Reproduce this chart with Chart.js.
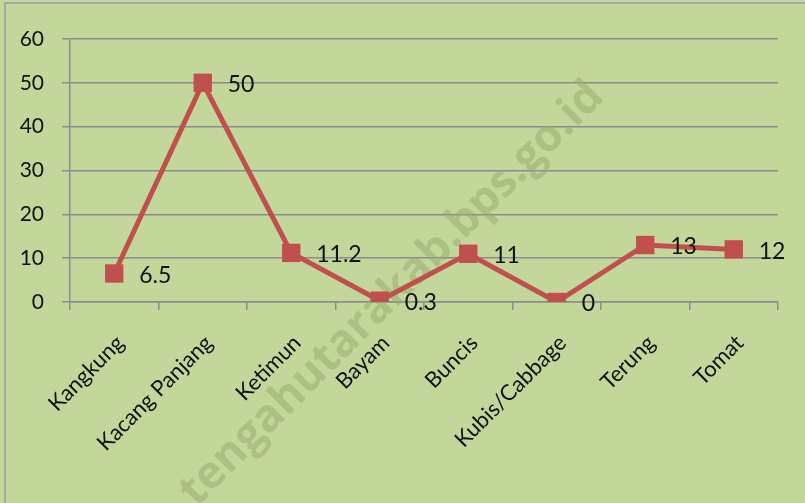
<!DOCTYPE html>
<html>
<head>
<meta charset="utf-8">
<script src="https://cdn.jsdelivr.net/npm/chart.js@4"></script>
<style>
  html, body { margin: 0; padding: 0; background: #c4d79b; }
  #wrap { width: 805px; height: 503px; }
</style>
</head>
<body>
<div id="wrap"><canvas id="line-1" width="805" height="503"></canvas></div>
<script>
/* global Chart */

const categories = ['Kangkung', 'Kacang Panjang', 'Ketimun', 'Bayam', 'Buncis', 'Kubis/Cabbage', 'Terung', 'Tomat']
const values = [6.5, 50, 11.2, 0.3, 11, 0, 13, 12]
const yTicks = [0, 10, 20, 30, 40, 50, 60]
const watermark = 'tengahutarakab.bps.go.id'

const FONT = 'Lato, "Liberation Sans", sans-serif'
const RED = '#c0504d'
const GRID = '#8c8c8c'

const background = {
  id: 'background',
  beforeDraw (chart) {
    const ctx = chart.ctx
    ctx.save()
    ctx.fillStyle = '#c4d79b'
    ctx.fillRect(0, 0, chart.width, chart.height)
    ctx.strokeStyle = '#a6a6a6'
    ctx.lineWidth = 2
    ctx.beginPath()
    ctx.moveTo(5, chart.height)
    ctx.lineTo(5, 3)
    ctx.lineTo(chart.width, 3)
    ctx.stroke()
    ctx.restore()
  },
  beforeDatasetsDraw (chart) {
    // faint diagonal watermark behind the line
    const ctx = chart.ctx
    ctx.save()
    ctx.translate(392, 294)
    ctx.rotate(-Math.PI / 4)
    ctx.font = 'bold 40px "Open Sans", sans-serif'
    const w = ctx.measureText(watermark).width
    const s = 580 / w
    ctx.font = 'bold ' + Math.round(40 * s) + 'px "Open Sans", sans-serif'
    ctx.fillStyle = 'rgba(150, 170, 110, 0.5)'
    ctx.textAlign = 'center'
    ctx.textBaseline = 'middle'
    ctx.fillText(watermark, 0, 0)
    ctx.restore()
  }
}

const valueLabels = {
  id: 'valueLabels',
  afterDatasetsDraw (chart) {
    const ctx = chart.ctx
    const meta = chart.getDatasetMeta(0)
    ctx.save()
    ctx.font = '23px ' + FONT
    ctx.fillStyle = '#111'
    ctx.textAlign = 'left'
    ctx.textBaseline = 'middle'
    meta.data.forEach((pt, i) => {
      ctx.fillText(String(values[i]), pt.x + 25, pt.y + 2)
    })
    ctx.restore()
  }
}

const config = {
  type: 'line',
  data: {
    labels: categories,
    datasets: [{
      data: values,
      borderColor: RED,
      backgroundColor: RED,
      borderWidth: 5,
      pointStyle: 'rect',
      pointRadius: 13,
      pointBorderWidth: 0,
      pointBackgroundColor: RED,
      tension: 0
    }]
  },
  options: {
    responsive: false,
    animation: false,
    layout: { padding: { top: 39, right: 27, left: 0, bottom: 0 } },
    plugins: {
      legend: { display: false },
      tooltip: { enabled: false }
    },
    scales: {
      x: {
        offset: true,
        afterFit: scale => { scale.height = 201 },
        grid: {
          offset: true,
          drawOnChartArea: false,
          drawTicks: true,
          tickLength: 8,
          color: GRID,
          lineWidth: 1.5
        },
        border: { color: GRID, width: 1.5 },
        ticks: {
          minRotation: 45,
          maxRotation: 45,
          padding: 20,
          labelOffset: 6,
          color: '#111',
          font: { family: FONT, size: 22 }
        }
      },
      y: {
        min: yTicks[0],
        max: yTicks[yTicks.length - 1],
        afterFit: scale => { scale.width = 70 },
        afterBuildTicks: scale => { scale.ticks = yTicks.map(v => ({ value: v })) },
        grid: {
          color: GRID,
          lineWidth: 1.5,
          tickLength: 8
        },
        border: { color: GRID, width: 1.5 },
        ticks: {
          padding: 18,
          color: '#111',
          font: { family: FONT, size: 21 }
        }
      }
    }
  },
  plugins: [background, valueLabels]
}

const lineOne = new Chart(document.getElementById('line-1'), config)
</script>
</body>
</html>
